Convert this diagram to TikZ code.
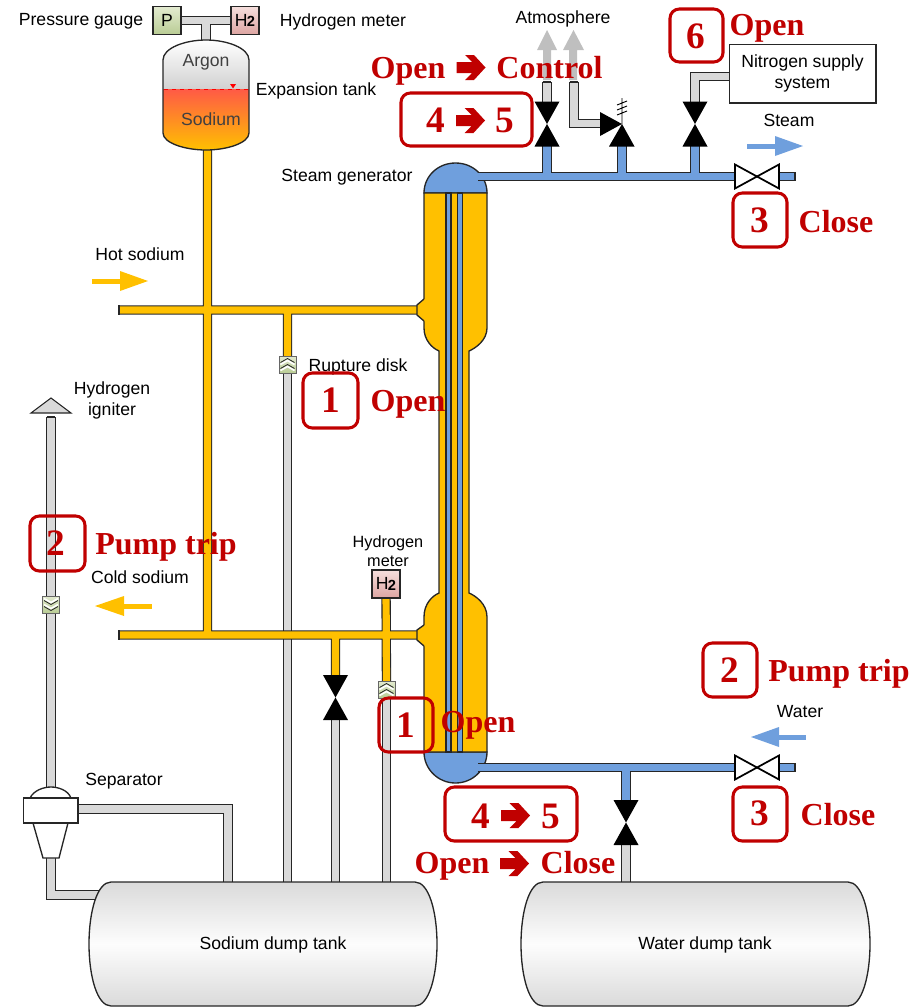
\documentclass[tikz,border=0pt]{standalone}
\usepackage{fontspec}
\setmainfont{Liberation Sans}
\newfontfamily\redserif{Liberation Serif}
\usetikzlibrary{calc}
\definecolor{pgray}{HTML}{D9D9D9}
\definecolor{pyellow}{HTML}{FFC000}
\definecolor{pblue}{HTML}{6F9FDD}
\definecolor{redtxt}{HTML}{C00000}
\definecolor{edgec}{HTML}{262626}
\definecolor{greenhi}{HTML}{E3EBD0}
\definecolor{greenlo}{HTML}{B9CC94}
\definecolor{pinkhi}{HTML}{F5DEDC}
\definecolor{pinklo}{HTML}{DDA5A2}
\definecolor{tankgray}{HTML}{DADADA}
\definecolor{tanklight}{HTML}{FDFDFD}
\definecolor{sodred}{HTML}{FF5A46}
\newcommand{\pipenet}[2]{%
  \draw[line width=7pt,draw=edgec,line join=miter] #2;
  \draw[line width=5.4pt,draw=#1,line join=miter] #2;}
\tikzset{
  lbl/.style={font=\fontsize{13.2pt}{15.8pt}\selectfont,text=black,inner sep=0pt,align=center},
  redword/.style={font=\fontsize{24pt}{28pt}\redserif\bfseries\selectfont,text=redtxt,inner sep=0pt,anchor=base},
  reddigit/.style={font=\fontsize{28pt}{32pt}\redserif\bfseries\selectfont,text=redtxt,inner sep=0pt},
  redbox/.style={draw=redtxt,line width=2.3pt,rounded corners=7pt},
  outl/.style={draw=edgec,line width=1pt},
  instbox/.style={draw=edgec,line width=.8pt,minimum size=21pt,inner sep=0pt,font=\fontsize{13.2pt}{15pt}\selectfont},
  blackvalve/.pic={
    \fill[black] (-12.5,-22.5)--(12.5,-22.5)--(0,0)--cycle;
    \fill[black] (-12.5,22.5)--(12.5,22.5)--(0,0)--cycle;},
  gatevalve/.pic={
    \draw[black,fill=white,line width=1.3pt,line join=miter] (-22,-12)--(-22,12)--(0,0)--cycle;
    \draw[black,fill=white,line width=1.3pt,line join=miter] (22,-12)--(22,12)--(0,0)--cycle;},
  bigarrow/.pic={
    \fill[redtxt] (-14.5,-5.5)--(1,-5.5)--(-6,-12.5)--(3,-12.5)--(14.5,0)--(3,12.5)--(-6,12.5)--(1,5.5)--(-14.5,5.5)--cycle;},
  diskup/.pic={
    \draw[draw=gray!80!black,line width=.7pt,top color=greenhi,bottom color=greenlo] (-8.5,-8.5) rectangle (8.5,8.5);
    \draw[white,line width=1.2pt] (-7,0)--(0,-4)--(7,0) (-7,6)--(0,2)--(7,6);
    \draw[edgec,line width=.6pt] (-7,-2)--(0,-6)--(7,-2) (-7,4)--(0,0)--(7,4);},
  diskdown/.pic={
    \draw[draw=gray!80!black,line width=.7pt,top color=greenhi,bottom color=greenlo] (-8.5,-8.5) rectangle (8.5,8.5);
    \draw[white,line width=1.2pt] (-7,-6)--(0,-2)--(7,-6) (-7,0)--(0,4)--(7,0);
    \draw[edgec,line width=.6pt] (-7,-4)--(0,0)--(7,-4) (-7,2)--(0,6)--(7,2);}
}
\begin{document}
\begin{tikzpicture}[x=0.75pt,y=-0.75pt]
\useasboundingbox (0,0) rectangle (913,1007);
% ---- named points
\coordinate (tankb) at (207.5,148);
\coordinate (tankt) at (206,42);
\coordinate (gt) at (206,20.5);
\coordinate (pb) at (167,20.5);
\coordinate (hb) at (245,20.5);
\coordinate (hotw) at (119,310);
\coordinate (hote) at (417,310);
\coordinate (hotd) at (287.5,310);
\coordinate (coldw) at (119,635);
\coordinate (colde) at (417,635);
\coordinate (coldv) at (207.5,635);
\coordinate (coldd) at (335.5,635);
\coordinate (rd1) at (287.5,364.5);
\coordinate (rd2) at (386.5,689.5);
\coordinate (rd3) at (51,604.5);
\coordinate (h2b) at (386,584);
\coordinate (dv) at (335.5,697.5);
\coordinate (dvt) at (335.5,676);
\coordinate (dvb) at (335.5,719);
\coordinate (stw) at (478,176.5);
\coordinate (ste) at (795,176.5);
\coordinate (stv1) at (547,176.5);
\coordinate (stv2) at (622,176.5);
\coordinate (stv3) at (695,176.5);
\coordinate (v1) at (547,124);
\coordinate (v1t) at (547,103);
\coordinate (v1b) at (547,145);
\coordinate (v2) at (622,124);
\coordinate (v2b) at (622,145);
\coordinate (v2w) at (601,123.5);
\coordinate (v3) at (695,124);
\coordinate (v3t) at (695,103);
\coordinate (v3b) at (695,145);
\coordinate (gv1) at (757,176.5);
\coordinate (gv1w) at (736,176.5);
\coordinate (gv1e) at (778,176.5);
\coordinate (wtw) at (478,767.5);
\coordinate (wte) at (795,767.5);
\coordinate (wtv) at (626,767.5);
\coordinate (v4) at (626,822.5);
\coordinate (v4t) at (626,801);
\coordinate (v4b) at (626,844);
\coordinate (gv2) at (757,767.5);
\coordinate (gv2w) at (736,767.5);
\coordinate (gv2e) at (778,767.5);
\coordinate (sepb) at (51,855);
\coordinate (sepr) at (76,809);
\coordinate (igt) at (51,417);
\coordinate (sept) at (51,795);
\coordinate (sodt1) at (228,884);
\coordinate (sodt2) at (287.5,884);
\coordinate (sodt3) at (335.5,884);
\coordinate (sodt4) at (386.5,884);
\coordinate (watt) at (626,884);
\coordinate (n2) at (731,76.5);
% ---- grey pipes
\pipenet{pgray}{(pb)--(hb) (gt)--(tankt)}
\pipenet{pgray}{(rd1)--(sodt2)}
\pipenet{pgray}{(dvb)--(sodt3)}
\pipenet{pgray}{(rd2)--(sodt4)}
\pipenet{pgray}{(igt)--(sept)}
\pipenet{pgray}{(sepb)--(51,895)--(110,895)}
\pipenet{pgray}{(sepr)--(sodt1|-sepr)--(sodt1)}
\pipenet{pgray}{(v4b)--(watt)}
\pipenet{pgray}{(n2)--(v3t|-n2)--(v3t)}
\pipenet{pgray}{(v1t)--(547,82)}
\pipenet{pgray}{(v2w)--(574,123.5)--(574,82)}
\draw[edgec,line width=1pt] (569.6,82)--(578.4,82) (542.6,82)--(551.4,82) (46.6,417)--(55.4,417);
% ---- yellow network
\pipenet{pyellow}{(tankb)--(coldv) (hotw)--(hote) (hotd)--(rd1) (coldw)--(colde) (coldd)--(dvt) (h2b)--(rd2)}
\draw[edgec,line width=1pt] (119,305.4)--(119,314.6) (119,630.4)--(119,639.6);
% ---- steam generator
\path[fill=pblue,outl] (424,193) .. controls (424,176) and (438,163) .. (455.5,163) .. controls (473,163) and (487,176) .. (487,193) -- cycle;
\path[fill=pblue,outl] (424,752) .. controls (424,769) and (438,783) .. (455.5,783) .. controls (473,783) and (487,769) .. (487,752) -- cycle;
\path[fill=pyellow,outl] (424,193) -- (424,328) .. controls (424,340) and (432,348) .. (439,351) -- (439,593) .. controls (432,596) and (424,604) .. (424,617) -- (424,752) -- (487,752) -- (487,617) .. controls (487,604) and (476,596) .. (469,593) -- (469,351) .. controls (476,348) and (487,340) .. (487,328) -- (487,193) -- cycle;
\path[fill=pblue,outl] (446,193) rectangle (451,752);
\path[fill=pblue,outl] (457.5,193) rectangle (462.5,752);
\path[fill=pyellow] (417,305) -- (424,299) -- (425,299) -- (425,321) -- (424,321) -- (417,315) -- cycle;
\draw[outl] (424,299) -- (417,305) -- (417,315) -- (424,321);
\path[fill=pyellow] (417,630) -- (424,625) -- (425,625) -- (425,646) -- (424,646) -- (417,640) -- cycle;
\draw[outl] (424,625) -- (417,630) -- (417,640) -- (424,646);
% ---- blue pipes
\draw[line width=7pt,draw=edgec] (stw)--(gv1w) (gv1e)--(ste) (stv1)--(v1b) (stv2)--(v2b) (stv3)--(v3b);
\draw[line width=5.4pt,draw=pblue] (470,176.5)--(gv1w) (gv1e)--(ste) (stv1)--(v1b) (stv2)--(v2b) (stv3)--(v3b);
\draw[line width=7pt,draw=edgec] (wtw)--(gv2w) (gv2e)--(wte) (wtv)--(v4t);
\draw[line width=5.4pt,draw=pblue] (470,767.5)--(gv2w) (gv2e)--(wte) (wtv)--(v4t);
\draw[edgec,line width=1pt] (795,172)--(795,181) (795,763)--(795,772);
% ---- valves
\pic at (v1) {blackvalve};
\pic at (v3) {blackvalve};
\pic at (v4) {blackvalve};
\pic at (dv) {blackvalve};
\fill[black] (609,146.5)--(634.5,146.5)--(622,124)--cycle;
\fill[black] (600,112)--(600,136)--(622,124)--cycle;
\draw[black,line width=.7pt] (622,98)--(622,124) (617,105)--(627,101) (617,110)--(627,106) (617,115)--(627,111);
\pic at (gv1) {gatevalve};
\pic at (gv2) {gatevalve};
\pic at (rd1) {diskup};
\pic at (rd2) {diskup};
\pic at (rd3) {diskdown};
% ---- expansion tank
\path[top color=white,bottom color=white!82!black] (163,89) -- (163,60) .. controls (163,48) and (185,40) .. (206,40) .. controls (227,40) and (249,48) .. (249,60) -- (249,89) -- cycle;
\path[top color=sodred,bottom color=pyellow] (163,89) -- (249,89) -- (249,133) .. controls (249,143) and (227,150) .. (206,150) .. controls (185,150) and (163,143) .. (163,133) -- cycle;
\draw[outl] (163,60) .. controls (163,48) and (185,40) .. (206,40) .. controls (227,40) and (249,48) .. (249,60) -- (249,133) .. controls (249,143) and (227,150) .. (206,150) .. controls (185,150) and (163,143) .. (163,133) -- cycle;
\draw[red,dashed,line width=.7pt] (164,89)--(248,89);
\fill[red] (230,84)--(236,84)--(233,88.5)--cycle;
\node[lbl,text=black!75] (argon) at (206,62.5) {Argon};
\node[lbl,text=black!75] (sodium) at (211,119) {Sodium};
% ---- instrument boxes
\node[instbox,top color=greenhi,bottom color=greenlo] (pg) at (167,20.5) {P};
\node[instbox,top color=pinkhi,bottom color=pinklo] (hm1) at (245,20.5) {H\kern-.5pt\raisebox{-.5pt}{\fontsize{11pt}{12pt}\selectfont\bfseries 2}};
\node[instbox,top color=pinkhi,bottom color=pinklo] (hm2) at (386,584) {H\kern-.5pt\raisebox{-.5pt}{\fontsize{11pt}{12pt}\selectfont\bfseries 2}};
% ---- igniter and separator
\path[fill=pgray,draw=edgec,line width=.8pt] (31,413)--(51,398)--(71,413)--cycle;
\path[fill=white,outl] (30,798) .. controls (34,790) and (44,787) .. (51,787) .. controls (58,787) and (68,790) .. (71,798) -- cycle;
\path[fill=white,outl] (33,823)--(68,823)--(59,858)--(43,858)--cycle;
\node[draw=edgec,fill=white,line width=1pt,minimum width=41pt,minimum height=18.7pt,inner sep=0pt] (sep) at (50.5,810.5) {};
% ---- tanks
\path[top color=tankgray,bottom color=tankgray,middle color=tanklight,outl] (111,882) -- (415,882) .. controls (429,882) and (437,912) .. (437,944) .. controls (437,976) and (429,1006) .. (415,1006) -- (111,1006) .. controls (97,1006) and (89,976) .. (89,944) .. controls (89,912) and (97,882) .. (111,882) -- cycle;
\path[top color=tankgray,bottom color=tankgray,middle color=tanklight,outl] (543,882) -- (848,882) .. controls (862,882) and (870,912) .. (870,944) .. controls (870,976) and (862,1006) .. (848,1006) -- (543,1006) .. controls (529,1006) and (521,976) .. (521,944) .. controls (521,912) and (529,882) .. (543,882) -- cycle;
\node[lbl] (sodtank) at (273,945) {Sodium dump tank};
\node[lbl] (wattank) at (705,945) {Water dump tank};
% ---- nitrogen box
\node[draw=edgec,fill=white,line width=1pt,lbl,minimum width=110pt,minimum height=44pt,inner sep=0pt] (nitro) at (802.5,73.5) {Nitrogen supply\\system};
% ---- flow arrows
\fill[black!25] (543,80) rectangle (551,50) (537,50)--(557,50)--(547,30)--cycle;
\fill[black!25] (569,80) rectangle (577,50) (563,50)--(584,50)--(573.5,30)--cycle;
\fill[pblue] (747,143.5) rectangle (776,148.5);
\fill[pblue] (775,136)--(775,156)--(803,146)--cycle;
\fill[pblue] (778,734.5) rectangle (806,739.5);
\fill[pblue] (779,727)--(779,747)--(751,737)--cycle;
\fill[pyellow] (92,278.5) rectangle (121,283.5);
\fill[pyellow] (120,271)--(120,291)--(148,281)--cycle;
\fill[pyellow] (123,603.5) rectangle (152,608.5);
\fill[pyellow] (124,596)--(124,616)--(95,606)--cycle;
% ---- labels
\node[lbl] (l1) at (81,21.5) {Pressure gauge};
\node[lbl] (l2) at (343,22) {Hydrogen meter};
\node[lbl] (l3) at (316,90.5) {Expansion tank};
\node[lbl] (l4) at (347,177) {Steam generator};
\node[lbl] (l5) at (563,19) {Atmosphere};
\node[lbl] (l6) at (789,120.5) {Steam};
\node[lbl] (l7) at (140,254.5) {Hot sodium};
\node[lbl] (l8) at (358,366.5) {Rupture disk};
\node[lbl] (l9) at (112,400) {Hydrogen\\igniter};
\node[lbl] (l10) at (140,577) {Cold sodium};
\node[lbl,font=\fontsize{12.2pt}{14.3pt}\selectfont] (l11) at (388,551) {Hydrogen\\meter};
\node[lbl] (l12) at (124,781.5) {Separator};
\node[lbl] (l13) at (800,712) {Water};
% ---- red callouts
\draw[redbox] (670,9) rectangle (723,62);
\node[reddigit] (n6) at (695.5,36) {6};
\node[redword] (t6) at (767,35) {Open};
\node[redword] (t45a) at (408,78) {Open};
\pic at (471,67.5) {bigarrow};
\node[redword] (t45a2) at (549.5,78) {Control};
\draw[redbox] (401,93) rectangle (532,146);
\node[reddigit] (n4a) at (436,120) {4};
\pic at (470.5,120.5) {bigarrow};
\node[reddigit] (n5a) at (505,120) {5};
\draw[redbox] (733,193) rectangle (787,247);
\node[reddigit] (n3a) at (759.5,220) {3};
\node[redword] (t3a) at (836,232) {Close};
\draw[redbox] (303,373) rectangle (358,428);
\node[reddigit] (n1a) at (330.5,400) {1};
\node[redword] (t1a) at (408,411) {Open};
\draw[redbox] (30,516) rectangle (85,571);
\node[reddigit] (n2a) at (56,543) {2};
\node[redword] (t2a) at (166,554) {Pump trip};
\draw[redbox] (703,643) rectangle (757,697);
\node[reddigit] (n2b) at (729.5,670) {2};
\node[redword] (t2b) at (839,681) {Pump trip};
\draw[redbox] (379,698) rectangle (433,752);
\node[reddigit] (n1b) at (405.5,725) {1};
\node[redword] (t1b) at (478,732) {Open};
\draw[redbox] (445,787) rectangle (577,841);
\node[reddigit] (n4b) at (481,816) {4};
\pic at (515.5,815.5) {bigarrow};
\node[reddigit] (n5b) at (550.5,816) {5};
\node[redword] (t45b) at (452,873) {Open};
\pic at (514.5,863.5) {bigarrow};
\node[redword] (t45b2) at (578,873) {Close};
\draw[redbox] (733,787) rectangle (787,841);
\node[reddigit] (n3b) at (759.5,813) {3};
\node[redword] (t3b) at (838,825) {Close};
\end{tikzpicture}
\end{document}
